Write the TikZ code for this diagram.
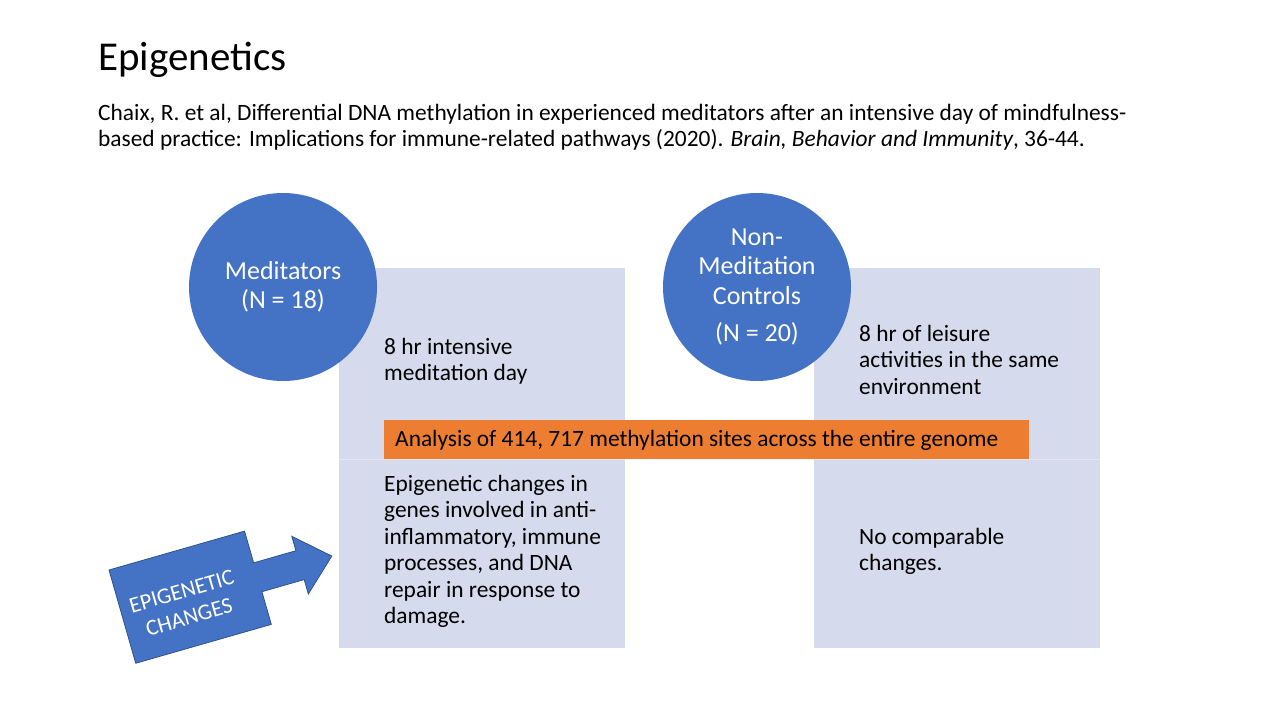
\documentclass[tikz,border=0pt]{standalone}
\usepackage{fontspec}
\setmainfont{Carlito}
\begin{document}
\begin{tikzpicture}[x=1pt,y=-1pt,
  circ/.style={circle,fill=cblue,minimum size=188pt,inner sep=0pt,text=white,align=center,font=\fontsize{26}{29.5}\selectfont},
  txt/.style={anchor=north west,align=left,inner sep=0pt,font=\fontsize{23.4}{26.4}\selectfont}]
\definecolor{cblue}{HTML}{4472C4}
\definecolor{lbox}{HTML}{D5DAEC}
\definecolor{lline}{HTML}{E2E6F2}
\definecolor{corange}{HTML}{ED7D31}
\definecolor{dblue}{HTML}{2F528F}
\useasboundingbox (0,0) rectangle (1280,720);
\node[anchor=base west,inner sep=0pt,font=\fontsize{41}{46}\selectfont] (title) at (98,70) {Epigenetics};
\node[txt,anchor=north west] (cite) at (98,104) {Chaix, R. et al, Differential DNA methylation in experienced meditators after an intensive day of mindfulness-\\based practice: Implications for immune-related pathways (2020). \textit{Brain, Behavior and Immunity}, 36-44.};
\fill[lbox] (339,268) rectangle (625,648);
\fill[lbox] (814,268) rectangle (1100,648);
\draw[lline] (339,459) -- (625,459) (814,459) -- (1100,459);
\node[circ] (med) at (283,287) {Meditators\\(N = 18)};
\node[circ] (non) at (757,287) {Non-\\Meditation\\Controls\\[8pt](N = 20)};
\node[txt] (t1) at (384,338) {8 hr intensive\\meditation day};
\node[txt] (t2) at (859,325) {8 hr of leisure\\activities in the same\\environment};
\node[fill=corange,minimum width=645pt,minimum height=39pt,anchor=north west,inner sep=0pt] (bar) at (384,420) {};
\node[anchor=west,inner sep=0pt,font=\fontsize{23.4}{26.4}\selectfont] (bart) at (395,440) {Analysis of 414, 717 methylation sites across the entire genome};
\node[txt] (t3) at (384,475) {Epigenetic changes in\\genes involved in anti-\\inflammatory, immune\\processes, and DNA\\repair in response to\\damage.};
\node[txt] (t4) at (859,528) {No comparable\\changes.};
\begin{scope}[shift={(109,570)},rotate=16]
\draw[fill=cblue,draw=dblue,line width=0.8pt] (0,0) -- (141,0) -- (141,33) -- (185,33) -- (185,18) -- (218,48) -- (185,78) -- (185,63) -- (141,63) -- (141,97) -- (0,97) -- cycle;
\node[text=white,align=center,rotate=16,font=\fontsize{22.5}{27}\selectfont] (ep) at (64,54) {EPIGENETIC\\CHANGES};
\end{scope}
\end{tikzpicture}
\end{document}
